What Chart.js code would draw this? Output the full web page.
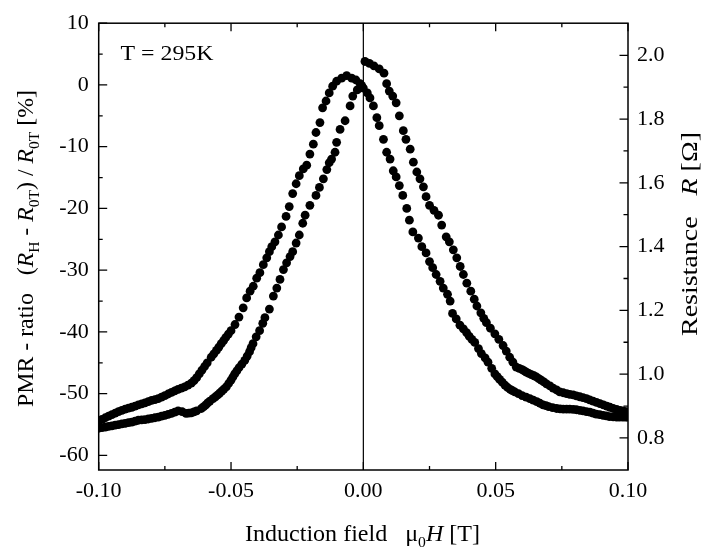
<!DOCTYPE html>
<html>
<head>
<meta charset="utf-8">
<script src="https://cdn.jsdelivr.net/npm/chart.js@4.4.0/dist/chart.umd.min.js"></script>
<style>
  html, body { margin: 0; padding: 0; background: #fff; }
  canvas { display: block; }
</style>
</head>
<body>
<canvas id="pmrChart" width="703" height="549"></canvas>
<script>
// [field (T), PMR ratio (%)] with the field swept down (+0.1 -> -0.1), listed left to right
const fieldDownPoints = [
  [-0.100, -54.4], [-0.09875, -54.15], [-0.0975, -53.9], [-0.09625, -53.65], [-0.095, -53.4],
  [-0.09375, -53.15], [-0.0925, -52.9], [-0.09125, -52.7], [-0.090, -52.5], [-0.08875, -52.35],
  [-0.0875, -52.2], [-0.08625, -52.0], [-0.085, -51.8], [-0.08375, -51.65], [-0.0825, -51.5],
  [-0.08125, -51.3], [-0.080, -51.1], [-0.07875, -50.95], [-0.0775, -50.8], [-0.07625, -50.55],
  [-0.075, -50.3], [-0.07375, -50.05], [-0.0725, -49.8], [-0.07125, -49.55], [-0.070, -49.3],
  [-0.06875, -49.1], [-0.0675, -48.9], [-0.06625, -48.6], [-0.065, -48.3], [-0.064, -47.9],
  [-0.063, -47.4], [-0.062, -46.8], [-0.061, -46.2], [-0.060, -45.6], [-0.059, -45.0],
  [-0.0575, -44.1], [-0.0565, -43.55], [-0.0555, -43.0], [-0.0546, -42.45], [-0.0537, -41.9],
  [-0.0528, -41.4], [-0.052, -40.9], [-0.051, -40.35], [-0.050, -39.8], [-0.0485, -38.8],
  [-0.047, -37.6], [-0.0454, -36.1], [-0.0441, -34.5], [-0.0428, -33.4], [-0.0416, -32.6],
  [-0.0403, -31.3], [-0.0391, -30.4], [-0.0378, -29.1], [-0.0365, -28.0], [-0.0355, -27.0],
  [-0.0346, -26.2], [-0.0334, -25.4], [-0.0321, -24.3], [-0.0309, -23.0], [-0.0292, -21.3],
  [-0.028, -19.7], [-0.0267, -17.6], [-0.0254, -16.0], [-0.0242, -14.7], [-0.0227, -13.6],
  [-0.0214, -13.0], [-0.0202, -11.2], [-0.0189, -9.6], [-0.0179, -7.7], [-0.0164, -6.1],
  [-0.0154, -3.7], [-0.0141, -2.6], [-0.0129, -1.3], [-0.0116, -0.2], [-0.0101, 0.6],
  [-0.0082, 1.1], [-0.0063, 1.5], [-0.0044, 1.1], [-0.0028, 0.8], [-0.0012, 0.2],
  [0.0, -0.5], [0.0015, -1.3], [0.0025, -2.1], [0.0038, -3.4], [0.0051, -5.3],
  [0.006, -6.6], [0.0076, -8.8], [0.0088, -10.9], [0.0101, -12.0], [0.0113, -13.9],
  [0.0124, -14.9], [0.0136, -16.3], [0.0149, -17.9], [0.0164, -20.0], [0.0174, -21.9],
  [0.0187, -23.8], [0.0208, -24.8], [0.0221, -26.2], [0.0237, -27.2], [0.025, -28.6],
  [0.0262, -29.6], [0.0275, -30.7], [0.029, -31.8], [0.0302, -32.9], [0.0318, -33.9],
  [0.0328, -35.0], [0.0337, -37.0], [0.0351, -37.9], [0.0365, -38.9], [0.0378, -39.5],
  [0.039, -40.1], [0.040, -40.7], [0.041, -41.2], [0.0421, -41.7], [0.0435, -42.7],
  [0.0446, -43.5], [0.046, -44.2], [0.0471, -44.9], [0.0485, -45.9], [0.0497, -46.8],
  [0.0506, -47.25], [0.0515, -47.7], [0.0525, -48.15], [0.0535, -48.6], [0.0545, -49.0],
  [0.0555, -49.3], [0.0563, -49.5], [0.0572, -49.7], [0.0586, -50.0], [0.060, -50.3],
  [0.0615, -50.55], [0.0629, -50.8], [0.0642, -51.05], [0.0655, -51.3], [0.0667, -51.55],
  [0.0679, -51.8], [0.069, -51.95], [0.070, -52.1], [0.0715, -52.25], [0.073, -52.4],
  [0.0743, -52.45], [0.0755, -52.5], [0.0768, -52.5], [0.078, -52.5], [0.0793, -52.55],
  [0.0805, -52.6], [0.0818, -52.7], [0.083, -52.8], [0.0843, -52.9], [0.0856, -53.0],
  [0.0868, -53.15], [0.088, -53.3], [0.0893, -53.4], [0.0906, -53.5], [0.0918, -53.6],
  [0.093, -53.7], [0.0944, -53.75], [0.0957, -53.8], [0.0968, -53.8], [0.098, -53.8],
  [0.099, -53.8], [0.100, -53.8]
];

// field swept up (-0.1 -> +0.1)
const fieldUpPoints = [
  [-0.100, -55.6], [-0.09875, -55.5], [-0.0975, -55.4], [-0.09625, -55.3], [-0.095, -55.2],
  [-0.09375, -55.1], [-0.0925, -55.0], [-0.09125, -54.9], [-0.090, -54.8], [-0.08875, -54.7],
  [-0.0875, -54.6], [-0.08625, -54.45], [-0.085, -54.3], [-0.08375, -54.25], [-0.0825, -54.2],
  [-0.08125, -54.1], [-0.080, -54.0], [-0.07875, -53.9], [-0.0775, -53.8], [-0.07625, -53.65],
  [-0.075, -53.5], [-0.07375, -53.35], [-0.0725, -53.2], [-0.07125, -53.0], [-0.070, -52.8],
  [-0.0685, -52.9], [-0.067, -53.2], [-0.066, -53.15], [-0.065, -53.1], [-0.064, -52.95],
  [-0.063, -52.8], [-0.0612, -52.4], [-0.0603, -52.1], [-0.0595, -51.8], [-0.0588, -51.5],
  [-0.058, -51.2], [-0.0568, -50.8], [-0.0559, -50.5], [-0.055, -50.2], [-0.0543, -49.9],
  [-0.0535, -49.6], [-0.0527, -49.25], [-0.0518, -48.9], [-0.0509, -48.35], [-0.050, -47.8],
  [-0.0493, -47.3], [-0.0486, -46.8], [-0.0478, -46.3], [-0.047, -45.8], [-0.0459, -45.2],
  [-0.0448, -44.6], [-0.0439, -43.9], [-0.043, -43.2], [-0.0424, -42.55], [-0.0417, -41.9],
  [-0.0405, -40.8], [-0.0392, -39.8], [-0.038, -38.6], [-0.0372, -37.7], [-0.0355, -36.3],
  [-0.034, -34.2], [-0.0327, -32.9], [-0.0315, -31.5], [-0.0302, -29.9], [-0.029, -28.8],
  [-0.0277, -27.8], [-0.0267, -27.0], [-0.0254, -25.6], [-0.0242, -24.3], [-0.0229, -22.4],
  [-0.022, -21.1], [-0.0202, -19.5], [-0.0179, -17.9], [-0.0166, -16.6], [-0.0151, -15.2],
  [-0.0138, -13.7], [-0.0129, -12.6], [-0.012, -12.0], [-0.0107, -10.9], [-0.0101, -9.3],
  [-0.0088, -7.2], [-0.0069, -5.8], [-0.005, -3.4], [-0.004, -1.8], [-0.0023, -0.8],
  [-0.0006, -0.1], [0.0006, 3.8], [0.0023, 3.5], [0.004, 3.1], [0.006, 2.6],
  [0.0078, 1.9], [0.0088, 0.2], [0.0098, -1.0], [0.0111, -1.8], [0.0124, -2.9],
  [0.0136, -5.0], [0.0151, -7.4], [0.0161, -8.8], [0.0177, -10.4], [0.0189, -12.5],
  [0.0202, -14.1], [0.0214, -15.2], [0.0227, -16.5], [0.0237, -18.1], [0.025, -19.5],
  [0.0267, -20.3], [0.0284, -21.1], [0.0296, -22.7], [0.0313, -24.6], [0.0325, -25.4],
  [0.034, -26.7], [0.0353, -28.0], [0.0366, -29.4], [0.0378, -30.7], [0.0391, -32.1],
  [0.0406, -33.4], [0.0419, -34.7], [0.0429, -35.8], [0.0444, -36.9], [0.0455, -37.8],
  [0.0465, -38.5], [0.048, -39.4], [0.0497, -40.3], [0.0512, -41.2], [0.0528, -42.2],
  [0.054, -43.1], [0.0553, -44.1], [0.0565, -44.9], [0.0578, -45.7], [0.0589, -45.9],
  [0.060, -46.1], [0.0608, -46.3], [0.0616, -46.5], [0.0625, -46.7], [0.0635, -46.9],
  [0.0645, -47.1], [0.0654, -47.3], [0.0663, -47.55], [0.0672, -47.8], [0.0682, -48.1],
  [0.0692, -48.4], [0.0705, -48.75], [0.0717, -49.1], [0.073, -49.4], [0.0742, -49.7],
  [0.0755, -49.85], [0.0768, -50.0], [0.078, -50.1], [0.0793, -50.2], [0.0805, -50.35],
  [0.0818, -50.5], [0.083, -50.65], [0.0843, -50.8], [0.0855, -51.0], [0.0868, -51.2],
  [0.0881, -51.4], [0.0894, -51.6], [0.0907, -51.8], [0.092, -52.0], [0.0932, -52.2],
  [0.0944, -52.4], [0.0957, -52.55], [0.097, -52.7], [0.0982, -52.8], [0.0994, -52.9]
];

const fieldTicks = [-0.10, -0.05, 0.00, 0.05, 0.10];
const fieldMinorTicks = [-0.075, -0.025, 0.025, 0.075];
const pmrTicks = [10, 0, -10, -20, -30, -40, -50, -60];
const pmrMinorTicks = [5, -5, -15, -25, -35, -45, -55];
const resTicks = [0.8, 1.0, 1.2, 1.4, 1.6, 1.8, 2.0];
const resMinorTicks = [0.9, 1.1, 1.3, 1.5, 1.7, 1.9];

const FONT = "'Liberation Serif', 'Times New Roman', serif";
const FS = 22;   // tick labels
const TFS = 23;  // axis titles

function toPoints(pairs) {
  return pairs.map(p => ({ x: p[0], y: p[1] }));
}

// draws text pieces centred on 0,0 and stretched to "width"
// style: '' normal, 'i' italic, 's' subscript
function drawRich(ctx, parts, size, width) {
  const fontFor = st => (st === 'i' ? 'italic ' : '') + (st === 's' ? Math.round(size * 0.66) : size) + 'px ' + FONT;
  let total = 0;
  parts.forEach(p => { ctx.font = fontFor(p[1]); total += ctx.measureText(p[0]).width; });
  ctx.scale(width / total, 1);
  let x = -total / 2;
  parts.forEach(p => {
    ctx.font = fontFor(p[1]);
    ctx.fillText(p[0], x, p[1] === 's' ? size * 0.28 : 0);
    x += ctx.measureText(p[0]).width;
  });
}

const framePlugin = {
  id: 'frame',
  afterDraw(chart) {
    const { ctx, chartArea: a, scales } = chart;
    const sx = scales.x, sy = scales.y, sr = scales.y2;
    ctx.save();
    ctx.strokeStyle = '#000';
    ctx.fillStyle = '#000';

    // box
    ctx.lineWidth = 1.5;
    ctx.strokeRect(a.left, a.top, a.right - a.left, a.bottom - a.top);

    // zero field line
    ctx.lineWidth = 1.2;
    const x0 = sx.getPixelForValue(0);
    ctx.beginPath();
    ctx.moveTo(x0, a.top);
    ctx.lineTo(x0, a.bottom);
    ctx.stroke();

    // ticks pointing into the plot
    ctx.lineWidth = 1.3;
    ctx.beginPath();
    const tickX = (vals, len) => vals.forEach(v => {
      const px = sx.getPixelForValue(v);
      ctx.moveTo(px, a.bottom); ctx.lineTo(px, a.bottom - len);
      ctx.moveTo(px, a.top); ctx.lineTo(px, a.top + len);
    });
    tickX(fieldTicks, 8);
    tickX(fieldMinorTicks, 4);
    const tickL = (vals, len) => vals.forEach(v => {
      const py = sy.getPixelForValue(v);
      ctx.moveTo(a.left, py); ctx.lineTo(a.left + len, py);
    });
    tickL(pmrTicks, 8.5);
    tickL(pmrMinorTicks, 4);
    const tickR = (vals, len) => vals.forEach(v => {
      const py = sr.getPixelForValue(v);
      ctx.moveTo(a.right, py); ctx.lineTo(a.right - len, py);
    });
    tickR(resTicks, 8.5);
    tickR(resMinorTicks, 4.5);
    ctx.stroke();

    // texts
    ctx.textBaseline = 'alphabetic';
    ctx.textAlign = 'left';

    ctx.save();
    ctx.translate(167, 60);
    drawRich(ctx, [['T = 295K', '']], FS, 93);
    ctx.restore();

    ctx.save();
    ctx.translate(362.5, 541);
    drawRich(ctx, [['Induction field   \u03bc', ''], ['0', 's'], ['H', 'i'], [' [T]', '']], TFS, 235);
    ctx.restore();

    ctx.save();
    ctx.translate(33, 248.5);
    ctx.rotate(-Math.PI / 2);
    drawRich(ctx, [['PMR - ratio   (', ''], ['R', 'i'], ['H', 's'], [' - ', ''], ['R', 'i'], ['0T', 's'],
      [') / ', ''], ['R', 'i'], ['0T', 's'], [' [%]', '']], TFS, 317);
    ctx.restore();

    ctx.save();
    ctx.translate(697, 234);
    ctx.rotate(-Math.PI / 2);
    drawRich(ctx, [['Resistance   ', ''], ['R', 'i'], [' [\u03a9]', '']], TFS, 204);
    ctx.restore();

    ctx.restore();
  }
};

Chart.defaults.font.family = FONT;
Chart.defaults.font.size = FS;
Chart.defaults.color = '#000';

const ctx = document.getElementById('pmrChart').getContext('2d');
new Chart(ctx, {
  type: 'scatter',
  data: {
    datasets: [
      {
        label: 'field down',
        data: toPoints(fieldDownPoints),
        backgroundColor: '#000',
        borderWidth: 0,
        pointRadius: 4.4
      },
      {
        label: 'field up',
        data: toPoints(fieldUpPoints),
        backgroundColor: '#000',
        borderWidth: 0,
        pointRadius: 4.4
      }
    ]
  },
  options: {
    responsive: false,
    animation: false,
    layout: { padding: { top: 20, left: 0, right: 0, bottom: 0 } },
    plugins: { legend: { display: false }, tooltip: { enabled: false } },
    scales: {
      x: {
        type: 'linear',
        position: 'bottom',
        min: -0.1,
        max: 0.1,
        grid: { display: false, drawTicks: false },
        border: { display: false },
        afterBuildTicks: s => { s.ticks = fieldTicks.map(v => ({ value: v })); },
        afterFit: s => { s.height = 79; },
        ticks: { padding: 8, maxRotation: 0, callback: v => v.toFixed(2) }
      },
      y: {
        type: 'linear',
        position: 'left',
        min: -62.36,
        max: 10,
        grid: { display: false, drawTicks: false },
        border: { display: false },
        afterBuildTicks: s => { s.ticks = pmrTicks.map(v => ({ value: v })); },
        afterFit: s => { s.width = 98.7; },
        ticks: { padding: 10, callback: v => String(v) }
      },
      y2: {
        type: 'linear',
        position: 'right',
        display: true,
        min: 0.6994,
        max: 2.1006,
        grid: { display: false, drawTicks: false },
        border: { display: false },
        afterBuildTicks: s => { s.ticks = resTicks.map(v => ({ value: v })); },
        afterFit: s => { s.width = 75; },
        ticks: { padding: 9, callback: v => v.toFixed(1) }
      }
    }
  },
  plugins: [framePlugin]
});
</script>
</body>
</html>
